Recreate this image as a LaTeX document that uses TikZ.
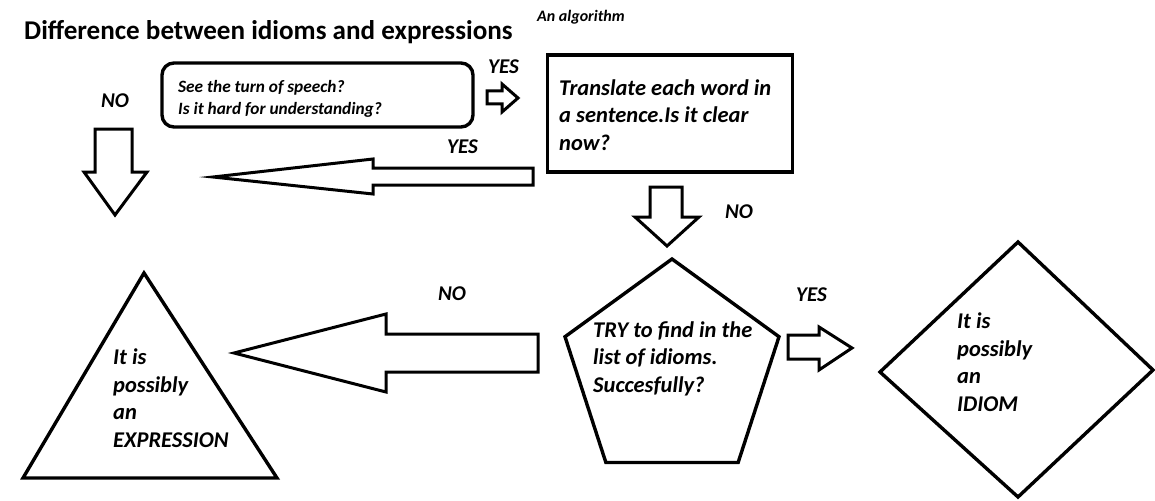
\documentclass[tikz,border=0pt]{standalone}
\usepackage{fontspec}
\setmainfont{Carlito}
\usetikzlibrary{shapes.geometric}
\begin{document}
\begin{tikzpicture}[x=1pt,y=-1pt,
  shp/.style={draw=black, line width=3.4pt, line join=miter, inner sep=0pt, outer sep=0pt},
  blk/.style={draw=black, line width=3pt, line join=miter, fill=white},
  lbl/.style={anchor=base west, inner sep=0pt, font=\fontsize{21}{27.5}\selectfont\bfseries\itshape},
  body/.style={anchor=base west, inner sep=0pt, align=left, font=\fontsize{22.5}{27.5}\selectfont\bfseries\itshape},
  small/.style={anchor=base west, inner sep=0pt, align=left, font=\fontsize{17.3}{22}\selectfont\bfseries\itshape},
]
\useasboundingbox (0,0) rectangle (1155,500);
\fill[white] (0,0) rectangle (1155,500);

% title
\node[anchor=base west, inner sep=0pt, font=\fontsize{27.1}{30}\selectfont\bfseries] (title) at (24,40) {Difference between idioms and expressions};
\node[anchor=base west, inner sep=0pt, font=\fontsize{16}{18}\selectfont\bfseries\itshape] (algo) at (537,22) {An algorithm};

% shapes (multi-line texts are placed by the baseline of their last line)
\node[shp, rounded corners=12pt, minimum width=311pt, minimum height=64pt] (q1) at (317.5,95) {};
\node[small] (q1t) at (178,114) {See the turn of speech?\\Is it hard for understanding?};

\node[shp, line width=3.6pt, minimum width=245pt, minimum height=117pt] (tr) at (670,113.5) {};
\node[body] (trt) at (559,150) {Translate each word in\\a sentence.Is it clear\\now?};

\node[shp, regular polygon, regular polygon sides=5, minimum size=225pt] (pent) at (672,371.5) {};
\node[body] (pentt) at (593,392) {TRY to find in the\\list of idioms.\\Succesfully?};

\coordinate (triA) at (144,273);
\coordinate (triB) at (277,478);
\coordinate (triC) at (23,478);
\draw[shp] (triA) -- (triB) -- (triC) -- cycle;
\node[body] (trit) at (113,447) {It is\\possibly\\an\\EXPRESSION};

\coordinate (diaT) at (1018,242);
\coordinate (diaR) at (1153,370);
\coordinate (diaB) at (1018,497);
\coordinate (diaL) at (880,372);
\draw[shp] (diaT) -- (diaR) -- (diaB) -- (diaL) -- cycle;
\node[body] (diat) at (957,411) {It is\\possibly\\an\\IDIOM};

% block arrows
\draw[blk] (487,91) -- (502,91) -- (502,84) -- (518,98) -- (502,112) -- (502,104) -- (487,104) -- cycle;
\draw[blk] (533,168) -- (373,168) -- (373,159) -- (213,177) -- (373,194) -- (373,185) -- (533,185) -- cycle;
\draw[blk] (95,129) -- (132,129) -- (132,172) -- (147,172) -- (115,215) -- (84,172) -- (95,172) -- cycle;
\draw[blk] (650,187) -- (682,187) -- (682,217) -- (699,217) -- (667,246) -- (635,217) -- (650,217) -- cycle;
\draw[blk] (538,334) -- (386,334) -- (386,314) -- (234,353) -- (386,392) -- (386,372) -- (538,372) -- cycle;
\draw[blk] (788,335) -- (819,335) -- (819,327) -- (852,348) -- (819,370) -- (819,359) -- (788,359) -- cycle;

% labels
\node[lbl] (no1) at (101,107) {NO};
\node[lbl] (yes1) at (488,74) {YES};
\node[lbl] (yes2) at (447,153) {YES};
\node[lbl] (no2) at (725,218) {NO};
\node[lbl] (no3) at (438,300) {NO};
\node[lbl] (yes3) at (796,301) {YES};
\end{tikzpicture}
\end{document}
